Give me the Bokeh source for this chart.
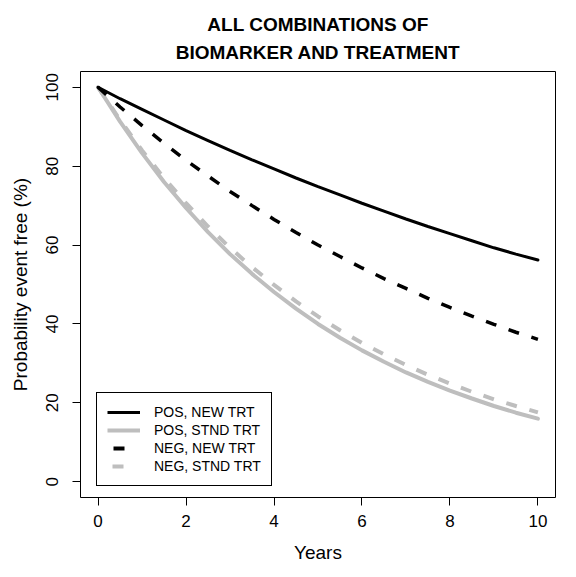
from bokeh.plotting import figure
from bokeh.models import Range1d, FixedTicker, Legend, LegendItem, ColumnDataSource, Title
from bokeh.embed import file_html
from bokeh.resources import INLINE

# data (probability event free, %)
years = [0, 0.5, 1, 1.5, 2, 2.5, 3, 3.5, 4, 4.5, 5, 5.5, 6, 6.5, 7, 7.5, 8, 8.5, 9, 9.5, 10]
pos_new = [100, 97.1, 94.4, 91.7, 89.0, 86.5, 84.0, 81.6, 79.3, 77.0, 74.8, 72.7, 70.6,
           68.6, 66.6, 64.7, 62.9, 61.1, 59.3, 57.7, 56.2]
pos_stnd = [100, 91.3, 83.3, 76.0, 69.4, 63.3, 57.7, 52.7, 48.1, 43.9, 40.0, 36.5, 33.3,
            30.4, 27.7, 25.3, 23.1, 21.1, 19.2, 17.5, 16.0]
neg_new = [100, 95.0, 90.3, 85.8, 81.5, 77.5, 73.6, 70.0, 66.5, 63.2, 60.0, 57.1, 54.2,
           51.5, 49.0, 46.5, 44.2, 42.0, 39.9, 37.9, 36.1]
neg_stnd = [100, 91.7, 84.0, 77.0, 70.6, 64.7, 59.3, 54.4, 49.9, 45.7, 41.9, 38.4, 35.2,
            32.3, 29.6, 27.1, 24.9, 22.8, 20.9, 19.2, 17.6]
labels = ["POS, NEW TRT", "POS, STND TRT", "NEG, NEW TRT", "NEG, STND TRT"]
title_lines = ["ALL COMBINATIONS OF", "BIOMARKER AND TREATMENT"]
x_ticks = [0, 2, 4, 6, 8, 10]
y_ticks = [0, 20, 40, 60, 80, 100]

FONT = "Liberation Sans"
GRAY = "#bebebe"

p = figure(width=568, height=569, output_backend="svg", toolbar_location=None,
           x_range=Range1d(-0.4, 10.4), y_range=Range1d(-4, 104),
           title=title_lines[0],
           x_axis_label="Years", y_axis_label="Probability event free (%)",
           min_border_left=80, min_border_right=13, min_border_top=71, min_border_bottom=72)

# two centred title lines: p.title is the upper one, the second line sits nearer the frame
line2 = Title(text=title_lines[1])
p.add_layout(line2, "above")
for t in (p.title, line2):
    t.align = "center"
    t.text_font = FONT
    t.text_font_size = "19px"
    t.text_font_style = "bold"
    t.text_color = "black"
    t.text_line_height = 0.75
p.title.standoff = 0
line2.vertical_align = "top"
line2.standoff = 14

p.xgrid.visible = False
p.ygrid.visible = False
p.outline_line_color = "black"
p.outline_line_alpha = 1
p.outline_line_width = 1

p.xaxis.ticker = FixedTicker(ticks=x_ticks)
p.yaxis.ticker = FixedTicker(ticks=y_ticks)
for ax in (p.xaxis, p.yaxis):
    ax.axis_line_color = None
    ax.major_tick_out = 8
    ax.major_tick_in = 0
    ax.major_tick_line_color = "black"
    ax.minor_tick_line_color = None
    ax.major_label_text_font = FONT
    ax.major_label_text_font_size = "17px"
    ax.major_label_text_color = "black"
    ax.axis_label_text_font = FONT
    ax.axis_label_text_font_size = "19px"
    ax.axis_label_text_font_style = "normal"
    ax.axis_label_text_color = "black"
p.xaxis.major_label_standoff = 9
p.xaxis.axis_label_standoff = 12
p.yaxis.major_label_orientation = "vertical"
p.yaxis.major_label_standoff = 14
p.yaxis.axis_label_standoff = 13

src = ColumnDataSource(dict(x=years, pn=pos_new, ps=pos_stnd, nn=neg_new, ns=neg_stnd))

p.line("x", "ns", source=src, line_color=GRAY, line_width=4, line_dash="11 13")
p.line("x", "ps", source=src, line_color=GRAY, line_width=4, line_cap="round")
p.line("x", "nn", source=src, line_color="black", line_width=3.5, line_dash="11 13")
p.line("x", "pn", source=src, line_color="black", line_width=3, line_cap="round")

# legend samples (short single dash for the dashed entries, as in the original)
one = ColumnDataSource(dict(x=years[:1], y=pos_new[:1]))
r1 = p.line("x", "y", source=one, line_color="black", line_width=3)
r2 = p.line("x", "y", source=one, line_color=GRAY, line_width=4)
r3 = p.line("x", "y", source=one, line_color="black", line_width=4, line_dash="0 6 11 40")
r4 = p.line("x", "y", source=one, line_color=GRAY, line_width=4, line_dash="0 5 11 40")

legend = Legend(items=[LegendItem(label=l, renderers=[r]) for l, r in zip(labels, [r1, r2, r3, r4])],
                location=(16, 11), margin=0, padding=10, spacing=0,
                glyph_width=33, glyph_height=18, label_height=18, label_standoff=14,
                label_text_font=FONT, label_text_font_size="14px", label_text_color="black",
                border_line_color="black", border_line_width=1, border_line_alpha=1,
                background_fill_color="white", background_fill_alpha=1)
p.add_layout(legend)

open("out.html", "w").write(file_html(p, INLINE))
